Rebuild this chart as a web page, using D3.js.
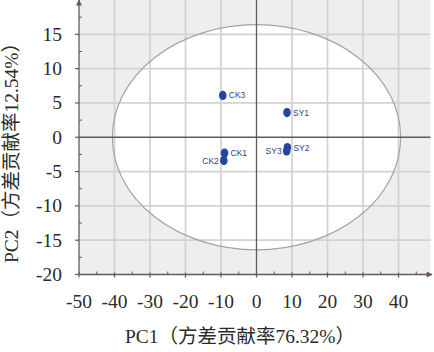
<!DOCTYPE html>
<html>
<head>
<meta charset="utf-8">
<script src="https://cdn.jsdelivr.net/npm/d3@7"></script>
<style>
  body { margin: 0; background: #fff; }
  svg { display: block; }
  .tick-label { font-family: "Liberation Serif", "Times New Roman", serif; font-size: 19.5px; fill: #2b2b2b; }
  .title { font-family: "Liberation Serif", "Noto Sans CJK SC", serif; font-size: 19.5px; fill: #2b2b2b; }
  .pt-label { font-family: "Liberation Sans", Arial, sans-serif; font-size: 8.5px; fill: #2a3f8f; }
</style>
</head>
<body>
<div id="chart"></div>
<script>
// samples on the first two principal components
const names = ["CK1", "CK2", "CK3", "SY1", "SY2", "SY3"];
const pc1 = [-9.0, -9.2, -9.5, 8.6, 8.7, 8.5];
const pc2 = [-2.3, -3.4, 6.1, 3.6, -1.5, -2.0];
const labelSide = ["right", "left", "right", "right", "right", "left"];

const xTicks = [-50, -40, -30, -20, -10, 0, 10, 20, 30, 40];
const yTicks = [-20, -15, -10, -5, 0, 5, 10, 15];

// confidence ellipse (centre and semi axes, in data units)
const ellipseCenter = [0, 0];
const ellipseRadii = [40.6, 16.4];

const W = 434, H = 352;
const x = d3.scaleLinear().domain([-50, 50]).range([79, 434]);
const y = d3.scaleLinear().domain([-20, 20]).range([274.5, 0]);

const svg = d3.select("#chart").append("svg")
    .attr("width", W).attr("height", H);

const axisCol = "#665858";
const gridCol = "#d5d1d1";

// grey plot background
svg.append("rect")
    .attr("x", x(-50)).attr("y", y(20))
    .attr("width", x(49) - x(-50)).attr("height", y(-20) - y(20))
    .attr("fill", "#efeeee");

// white ellipse fill
svg.append("ellipse")
    .attr("cx", x(ellipseCenter[0])).attr("cy", y(ellipseCenter[1]))
    .attr("rx", x(ellipseRadii[0]) - x(0)).attr("ry", y(0) - y(ellipseRadii[1]))
    .attr("fill", "#fff");

// grid
svg.append("g").selectAll("line")
    .data(xTicks.filter(d => d !== -50 && d !== 0))
    .join("line")
    .attr("x1", d => x(d)).attr("x2", d => x(d))
    .attr("y1", y(20)).attr("y2", y(-20))
    .attr("stroke", gridCol).attr("stroke-width", 1.7);

svg.append("g").selectAll("line")
    .data(yTicks.filter(d => d !== -20 && d !== 0))
    .join("line")
    .attr("x1", x(-50)).attr("x2", x(49))
    .attr("y1", d => y(d)).attr("y2", d => y(d))
    .attr("stroke", gridCol).attr("stroke-width", 1.7);

// ellipse outline
svg.append("ellipse")
    .attr("cx", x(ellipseCenter[0])).attr("cy", y(ellipseCenter[1]))
    .attr("rx", x(ellipseRadii[0]) - x(0)).attr("ry", y(0) - y(ellipseRadii[1]))
    .attr("fill", "none").attr("stroke", "#a8a0a0").attr("stroke-width", 1.2);

// zero lines
svg.append("line")
    .attr("x1", x(0)).attr("x2", x(0)).attr("y1", y(20)).attr("y2", y(-20))
    .attr("stroke", axisCol).attr("stroke-width", 1.3);
svg.append("line")
    .attr("x1", x(-50)).attr("x2", x(49)).attr("y1", y(0)).attr("y2", y(0))
    .attr("stroke", axisCol).attr("stroke-width", 1.3);

// axes with arrows
svg.append("defs").append("marker")
    .attr("id", "arrow").attr("viewBox", "0 0 10 10")
    .attr("refX", 9).attr("refY", 5)
    .attr("markerWidth", 8).attr("markerHeight", 6)
    .attr("markerUnits", "userSpaceOnUse")
    .attr("orient", "auto")
  .append("path").attr("d", "M0,0 L10,5 L0,10 Z").attr("fill", axisCol);

svg.append("line")
    .attr("x1", x(-50)).attr("x2", x(-50)).attr("y1", y(-20)).attr("y2", 0)
    .attr("stroke", axisCol).attr("stroke-width", 1.3)
    .attr("marker-end", "url(#arrow)");
svg.append("line")
    .attr("x1", x(-50)).attr("x2", 432).attr("y1", y(-20)).attr("y2", y(-20))
    .attr("stroke", axisCol).attr("stroke-width", 1.3)
    .attr("marker-end", "url(#arrow)");

// ticks on bottom axis (major every 10, minor every 5)
const xMinor = d3.range(-45, 50, 10);
svg.append("g").selectAll("line")
    .data(xTicks)
    .join("line")
    .attr("x1", d => x(d)).attr("x2", d => x(d))
    .attr("y1", y(-20) - 2).attr("y2", y(-20) + 3)
    .attr("stroke", axisCol).attr("stroke-width", 1.2);
svg.append("g").selectAll("line")
    .data(xMinor)
    .join("line")
    .attr("x1", d => x(d)).attr("x2", d => x(d))
    .attr("y1", y(-20) - 3).attr("y2", y(-20))
    .attr("stroke", axisCol).attr("stroke-width", 1);

// ticks on left axis (major every 5, minor every 2.5)
const yMinor = d3.range(-17.5, 20, 5);
svg.append("g").selectAll("line")
    .data(yTicks)
    .join("line")
    .attr("x1", x(-50) - 4).attr("x2", x(-50))
    .attr("y1", d => y(d)).attr("y2", d => y(d))
    .attr("stroke", axisCol).attr("stroke-width", 1.2);
svg.append("g").selectAll("line")
    .data(yMinor)
    .join("line")
    .attr("x1", x(-50)).attr("x2", x(-50) + 3)
    .attr("y1", d => y(d)).attr("y2", d => y(d))
    .attr("stroke", axisCol).attr("stroke-width", 1);

// tick labels
svg.append("g").selectAll("text")
    .data(xTicks)
    .join("text")
    .attr("class", "tick-label")
    .attr("x", d => x(d)).attr("y", 308)
    .attr("text-anchor", "middle")
    .text(d => d);
svg.append("g").selectAll("text")
    .data(yTicks)
    .join("text")
    .attr("class", "tick-label")
    .attr("x", 62).attr("y", d => y(d) + 6.5)
    .attr("text-anchor", "end")
    .text(d => d);

// axis titles
svg.append("text")
    .attr("class", "title")
    .attr("x", 240).attr("y", 343)
    .attr("text-anchor", "middle")
    .text("PC1（方差贡献率76.32%）");
svg.append("text")
    .attr("class", "title")
    .attr("transform", "translate(18,148) rotate(-90)")
    .attr("text-anchor", "middle")
    .text("PC2（方差贡献率12.54%）");

// sample points
const pts = names.map((n, i) => ({name: n, x: pc1[i], y: pc2[i], side: labelSide[i]}));
svg.append("g").selectAll("ellipse")
    .data(pts)
    .join("ellipse")
    .attr("cx", d => x(d.x)).attr("cy", d => y(d.y))
    .attr("rx", 3.8).attr("ry", 4.6)
    .attr("fill", "#2446a0");

svg.append("g").selectAll("text")
    .data(pts)
    .join("text")
    .attr("class", "pt-label")
    .attr("x", d => x(d.x) + (d.side === "right" ? 6 : -5))
    .attr("y", d => y(d.y) + 3)
    .attr("text-anchor", d => d.side === "right" ? "start" : "end")
    .text(d => d.name);
</script>
</body>
</html>
